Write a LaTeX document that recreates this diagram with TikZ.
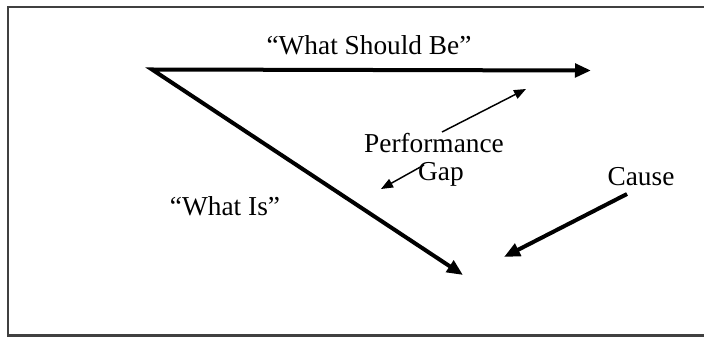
\documentclass[tikz,border=0pt]{standalone}
\usepackage{fontspec}
\setmainfont{Liberation Serif}
\usetikzlibrary{arrows.meta}
\begin{document}
\begin{tikzpicture}[x=0.75pt,y=-0.75pt,
  lbl/.style={font=\fontsize{20.5}{23}\selectfont, inner sep=0pt, text=black},
  bigarrow/.style={line width=3pt, -{Triangle[length=12pt,width=10pt]}},
  thinarrow/.style={line width=1.1pt, -{Triangle[length=9pt,width=7pt]}},
  framestyle/.style={line width=1.6pt, draw=black!75}]
\useasboundingbox (0,0) rectangle (704,338);
\draw[framestyle] (720,7) -- (8,7) -- (8,335.5) -- (720,335.5);
\coordinate (o) at (152,69.5);
\coordinate (top) at (591,70.5);
\coordinate (is) at (463,275);
\draw[line width=3pt, line join=miter, {Triangle[length=12pt,width=10pt]}-{Triangle[length=12pt,width=10pt]}] (top) -- (o) -- (is);
\node[lbl] (should) at (369,45) {“What Should Be”};
\node[lbl] (perf) at (434,143) {Performance};
\node[lbl] (gap) at (441,174) {Gap};
\node[lbl] (whatis) at (225,206) {“What Is”};
\node[lbl] (cause) at (641,177) {Cause};
\coordinate (p1) at (442,132);
\coordinate (p2) at (526,89);
\coordinate (g1) at (424,165);
\coordinate (g2) at (381,189);
\coordinate (c1) at (627,194);
\coordinate (c2) at (504,257);
\draw[thinarrow] (p1) -- (p2);
\draw[thinarrow] (g1) -- (g2);
\draw[bigarrow] (c1) -- (c2);
\end{tikzpicture}
\end{document}
